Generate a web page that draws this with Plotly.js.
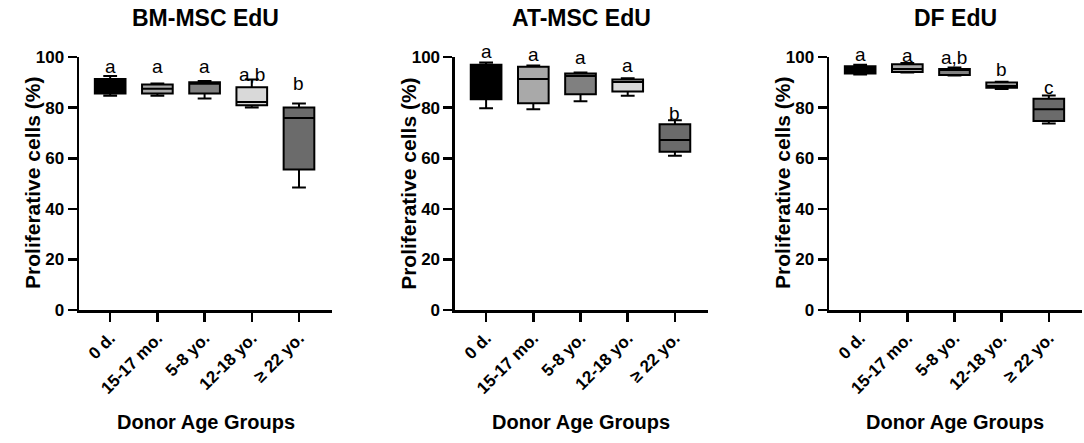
<!DOCTYPE html>
<html>
<head>
<meta charset="utf-8">
<script src="https://cdn.plot.ly/plotly-3.0.1.min.js"></script>
<style>
  html, body { margin: 0; padding: 0; background: #fff; }
  #chart { width: 1084px; height: 443px; }
</style>
</head>
<body>
<div id="chart"></div>
<script>
// donor age groups (x categories)
const groups = ['0 d.', '15-17 mo.', '5-8 yo.', '12-18 yo.', '\u2265 22 yo.']
const boxColors = ['#000000', '#a9a9a9', '#808080', '#d9d9d9', '#6b6b6b']

const panelTitles = ['BM-MSC EdU', 'AT-MSC EdU', 'DF EdU']
const yTicks = [0, 20, 40, 60, 80, 100]

// BM-MSC EdU, proliferative cells (%)
const bmMin    = [84.7, 84.7, 83.7, 80.1, 48.5]
const bmQ1     = [85.6, 85.6, 85.6, 81.0, 55.6]
const bmMedian = [88.5, 87.5, 89.5, 82.3, 75.9]
const bmQ3     = [91.4, 89.2, 90.1, 88.1, 80.1]
const bmMax    = [92.5, 89.6, 90.6, 91.2, 81.7]
const bmLetters = ['a', 'a', 'a', 'a,b', 'b']
const bmLetterY = [96.3, 96.2, 96.4, 93.3, 89.6]

// AT-MSC EdU
const atMin    = [79.8, 79.4, 82.6, 84.7, 61.0]
const atQ1     = [83.4, 81.8, 85.3, 86.4, 62.6]
const atMedian = [92.0, 91.4, 92.5, 90.2, 67.2]
const atQ3     = [97.0, 96.2, 93.5, 91.2, 73.5]
const atMax    = [97.9, 96.7, 93.9, 91.7, 75.1]
const atLetters = ['a', 'a', 'a', 'a', 'b']
const atLetterY = [102.2, 101.0, 100.0, 96.6, 77.7]

// DF EdU
const dfMin    = [93.1, 93.9, 92.7, 87.4, 73.8]
const dfQ1     = [93.5, 94.1, 92.9, 87.9, 74.8]
const dfMedian = [95.5, 95.3, 94.9, 88.7, 79.4]
const dfQ3     = [96.4, 97.2, 95.3, 90.0, 83.6]
const dfMax    = [97.0, 97.7, 95.9, 90.3, 84.8]
const dfLetters = ['a', 'a', 'a,b', 'b', 'c']
const dfLetterY = [101.0, 100.6, 99.7, 95.0, 88.1]

const panels = [
  {min: bmMin, q1: bmQ1, med: bmMedian, q3: bmQ3, max: bmMax, letters: bmLetters, letterY: bmLetterY},
  {min: atMin, q1: atQ1, med: atMedian, q3: atQ3, max: atMax, letters: atLetters, letterY: atLetterY},
  {min: dfMin, q1: dfQ1, med: dfMedian, q3: dfQ3, max: dfMax, letters: dfLetters, letterY: dfLetterY}
]

const FONT = 'Liberation Sans, Arial, Helvetica, sans-serif'
const domains = [[0.0729, 0.3063], [0.4197, 0.6531], [0.7648, 0.998]]
const yRange = [0, 100]

let traces = []
let annotations = []
let layout = {
  width: 1084,
  height: 443,
  margin: {l: 0, r: 0, t: 0, b: 0},
  paper_bgcolor: '#ffffff',
  plot_bgcolor: '#ffffff',
  showlegend: false,
  boxmode: 'overlay',
  font: {family: FONT, color: '#000'}
}

panels.forEach(function(p, k) {
  const n = k === 0 ? '' : String(k + 1)
  groups.forEach(function(g, i) {
    traces.push({
      type: 'box',
      x: [g],
      q1: [p.q1[i]],
      median: [p.med[i]],
      q3: [p.q3[i]],
      lowerfence: [p.min[i]],
      upperfence: [p.max[i]],
      width: 0.65,
      whiskerwidth: 0.45,
      fillcolor: boxColors[i],
      line: {color: '#000', width: 2},
      xaxis: 'x' + n,
      yaxis: 'y' + n,
      hoverinfo: 'skip'
    })
    // letters can sit above the top of the axis, so place them in domain units
    annotations.push({
      xref: 'x' + n, yref: 'y' + n + ' domain',
      x: g, y: (p.letterY[i] - yRange[0]) / (yRange[1] - yRange[0]),
      text: p.letters[i],
      showarrow: false,
      yanchor: 'middle',
      font: {family: FONT, size: 19, color: '#000'}
    })
  })

  layout['xaxis' + n] = {
    domain: domains[k],
    anchor: 'y' + n,
    type: 'category',
    categoryorder: 'array',
    categoryarray: groups,
    range: [-0.66, 4.7],
    showline: true, linewidth: 2.5, linecolor: '#000',
    ticks: 'outside', ticklen: 9, tickwidth: 2.5, tickcolor: '#000',
    tickangle: -45,
    tickfont: {family: FONT, size: 17, weight: 'bold', color: '#000'},
    showgrid: false, zeroline: false, fixedrange: true
  }
  layout['yaxis' + n] = {
    domain: [0.300, 0.871],
    anchor: 'x' + n,
    range: yRange,
    tickvals: yTicks,
    showline: true, linewidth: 2.5, linecolor: '#000',
    ticks: 'outside', ticklen: 9, tickwidth: 2.5, tickcolor: '#000',
    tickfont: {family: FONT, size: 17, weight: 'bold', color: '#000'},
    showgrid: false, zeroline: false, fixedrange: true
  }

  // panel title
  annotations.push({
    xref: 'x' + n + ' domain', yref: 'paper',
    x: 0.5, y: 0.959, yanchor: 'middle',
    text: panelTitles[k], showarrow: false,
    font: {family: FONT, size: 23, weight: 'bold', color: '#000'}
  })
  // x axis title
  annotations.push({
    xref: 'x' + n + ' domain', yref: 'paper',
    x: 0.5, y: 0.047, yanchor: 'middle',
    text: 'Donor Age Groups', showarrow: false,
    font: {family: FONT, size: 20, weight: 'bold', color: '#000'}
  })
  // y axis title
  annotations.push({
    xref: 'x' + n + ' domain', yref: 'paper',
    x: 0, xshift: -60, y: 0.586, yanchor: 'middle',
    text: 'Proliferative cells (%)', showarrow: false, textangle: -90,
    font: {family: FONT, size: 21, weight: 'bold', color: '#000'}
  })
})

layout.annotations = annotations

Plotly.newPlot('chart', traces, layout, {displayModeBar: false, staticPlot: true})
</script>
</body>
</html>
